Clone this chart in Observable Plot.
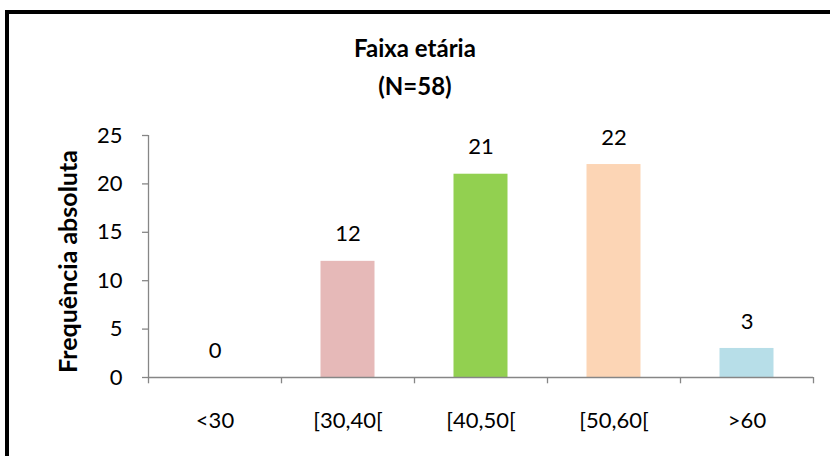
<!DOCTYPE html>
<html>
<head>
<meta charset="utf-8">
<script src="https://cdn.jsdelivr.net/npm/d3@7"></script>
<script src="https://cdn.jsdelivr.net/npm/@observablehq/plot@0.6"></script>
<style>
  html, body { margin: 0; padding: 0; background: #fff; overflow: hidden; }
  #wrap { position: relative; width: 830px; height: 456px; overflow: hidden; font-family: Lato, "Open Sans", sans-serif; }
  #frame { position: absolute; left: 5px; top: 10px; width: 900px; height: 520px; border: 4px solid #000; box-sizing: border-box; }
  .title { position: absolute; left: 0; width: 830px; text-align: center; font-weight: bold; font-size: 24px; color: #000; line-height: 1; }
  #chart { position: absolute; left: 0; top: 0; }
</style>
</head>
<body>
<div id="wrap">
  <div id="frame"></div>
  <div id="chart"></div>
  <div class="title" style="top:36px">Faixa etária</div>
  <div class="title" style="top:74px">(N=58)</div>
</div>
<script>
const categories = ["<30", "[30,40[", "[40,50[", "[50,60[", ">60"];
const values = [0, 12, 21, 22, 3];
const barColors = ["#E6B9B8", "#E6B9B8", "#92D050", "#FCD5B5", "#B7DEE8"];
const yTicks = [0, 5, 10, 15, 20, 25];
const yLabel = "Frequência absoluta";

const data = categories.map((c, i) => ({cat: c, value: values[i], color: barColors[i]}));
const W = 830, H = 456, mL = 148, mR = 17, mT = 135, mB = 79;
const band = (W - mL - mR) / categories.length;
const gray = "#868686";
const fs = 22;

const chart = Plot.plot({
  width: W, height: H,
  marginLeft: mL, marginRight: mR, marginTop: mT, marginBottom: mB,
  style: {fontFamily: "Lato, 'Open Sans', sans-serif", fontSize: fs + "px", color: "#000", background: "transparent"},
  x: {domain: categories, padding: 0, label: null},
  y: {domain: [0, 25], label: null},
  marks: [
    Plot.barY(data, {x: "cat", y: "value", fill: "color", insetLeft: (band - 54) / 2, insetRight: (band - 54) / 2}),
    Plot.ruleY([0], {stroke: gray, strokeWidth: 1.3}),
    Plot.ruleX([categories[0]], {dx: -band / 2, y1: 0, y2: 25, stroke: gray, strokeWidth: 1.3}),
    Plot.ruleX(categories, {x: d => d, dx: -band / 2, y1: 0, y2: -0.65, stroke: gray, strokeWidth: 1.3}),
    Plot.ruleX([categories[categories.length - 1]], {dx: band / 2, y1: 0, y2: -0.65, stroke: gray, strokeWidth: 1.3}),
    Plot.axisY(yTicks, {tickSize: 6, tickPadding: 20, stroke: gray, strokeWidth: 1.3, fontSize: fs, fill: "#000", label: null}),
    Plot.axisX({tickSize: 0, tickPadding: 35, fontSize: fs, fill: "#000", label: null}),
    Plot.text(data, {x: "cat", y: "value", text: d => String(d.value), dy: -27, lineAnchor: "middle", fontSize: fs, fill: "#000"}),
    Plot.text([yLabel], {frameAnchor: "left", dx: -80, dy: 5, rotate: -90, textAnchor: "middle", lineAnchor: "middle", fontSize: 25, fontWeight: "bold", fill: "#000"})
  ]
});
document.getElementById("chart").appendChild(chart);
</script>
</body>
</html>
